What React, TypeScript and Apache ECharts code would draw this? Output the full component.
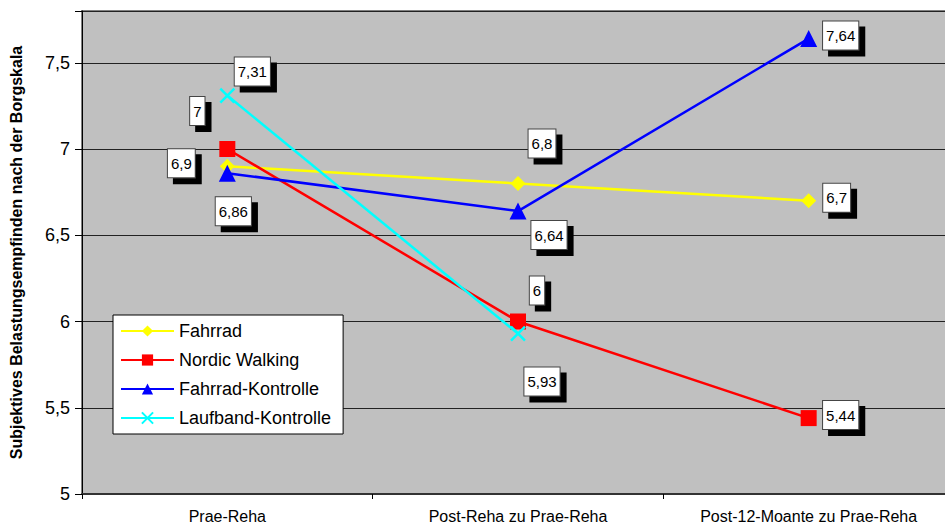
import React, { useEffect, useRef } from "react";
import * as echarts from "echarts";

const categories = ["Prae-Reha", "Post-Reha zu Prae-Reha", "Post-12-Moante zu Prae-Reha"];
const seriesNames = ["Fahrrad", "Nordic Walking", "Fahrrad-Kontrolle", "Laufband-Kontrolle"];
const fahrrad = [6.9, 6.8, 6.7];
const nordicWalking = [7, 6, 5.44];
const fahrradKontrolle = [6.86, 6.64, 7.64];
const laufbandKontrolle: (number | null)[] = [7.31, 5.93, null];
const yTicks = [5, 5.5, 6, 6.5, 7, 7.5];

// label offsets (px) relative to each point
const labelOffsets: number[][][] = [
  [[-46, -3], [24, -40], [28, -3]],
  [[-30, -38], [19, -31], [32, -3]],
  [[6, 38], [31, 24], [32, -3]],
  [[25, -24], [24, 48], [0, 0]],
];

const colors = ["#FFFF00", "#FF0000", "#0000FF", "#00FFFF"];
const symbols = ["diamond", "rect", "triangle", "path://M0,0L10,10M10,0L0,10"];
const symbolSizes = [15, 16, 17, 14];

const fmt = (v: number) => String(v).replace(".", ",");

export default function App() {
  const ref = useRef<HTMLDivElement>(null);
  useEffect(() => {
    if (!ref.current) return;
    const chart = echarts.init(ref.current, undefined, { renderer: "svg" });
    const datasets = [fahrrad, nordicWalking, fahrradKontrolle, laufbandKontrolle];
    const labelBase = {
      show: true,
      position: "inside",
      formatter: (p: any) => fmt(p.value),
      color: "#000",
      fontSize: 15,
      fontFamily: "Liberation Sans, Arial, sans-serif",
      backgroundColor: "#fff",
      borderColor: "#444",
      borderWidth: 1,
      padding: [6, 3, 5, 3],
      lineHeight: 17,
      shadowColor: "#000",
      shadowBlur: 0,
      shadowOffsetX: 6,
      shadowOffsetY: 6,
    };
    const series = datasets.map((d, si) => ({
      name: seriesNames[si],
      type: "line",
      data: d.map((v, i) => ({
        value: v,
        label: { ...labelBase, offset: labelOffsets[si][i] },
      })),
      symbol: symbols[si],
      symbolSize: symbolSizes[si],
      showAllSymbol: true,
      lineStyle: { color: colors[si], width: 2.5 },
      itemStyle: {
        color: colors[si],
        borderColor: colors[si],
        borderWidth: si === 3 ? 2.5 : 0,
      },
      emphasis: { disabled: true },
      z: 2 + si,
    }));
    chart.setOption({
      animation: false,
      backgroundColor: "#fff",
      textStyle: { fontFamily: "Liberation Sans, Arial, sans-serif" },
      grid: {
        left: 77,
        right: 0,
        top: 11,
        bottom: 33,
        show: true,
        backgroundColor: "#C0C0C0",
        borderColor: "#808080",
        borderWidth: 2,
      },
      legend: {
        show: true,
        orient: "vertical",
        left: 113,
        top: 315,
        backgroundColor: "#fff",
        borderColor: "#000",
        borderWidth: 1,
        padding: [7, 12, 7, 7],
        itemWidth: 53,
        itemHeight: 14,
        itemGap: 11,
        textStyle: { fontSize: 18, color: "#000", fontFamily: "Liberation Sans, Arial, sans-serif" },
        data: seriesNames,
      },
      xAxis: {
        type: "category",
        data: categories,
        boundaryGap: true,
        axisLine: { show: true, lineStyle: { color: "#333", width: 2 } },
        axisTick: { show: true, interval: 0, length: 5, lineStyle: { color: "#000" } },
        axisLabel: { fontSize: 16, color: "#000", margin: 14, interval: 0 },
        splitLine: { show: false },
      },
      yAxis: {
        type: "value",
        min: 5,
        max: 7.8,
        interval: 0.5,
        name: "Subjektives Belastungsempfinden nach der Borgskala",
        nameLocation: "middle",
        nameGap: 58,
        nameTextStyle: { fontSize: 16, fontWeight: "bold", color: "#000" },
        axisLine: { show: true, lineStyle: { color: "#000", width: 1 } },
        axisTick: { show: true, length: 7, lineStyle: { color: "#000" } },
        axisLabel: {
          fontSize: 18,
          color: "#000",
          margin: 12,
          formatter: (v: number) => (yTicks.includes(v) ? fmt(v) : ""),
        },
        splitLine: { show: true, lineStyle: { color: "#222", width: 1 } },
      },
      series,
    });
    return () => chart.dispose();
  }, []);
  return (
    <div style={{ position: "fixed", left: 0, top: 0, width: 945, height: 527, overflow: "hidden" }}>
      <div ref={ref} style={{ width: 954, height: 527 }} />
    </div>
  );
}
